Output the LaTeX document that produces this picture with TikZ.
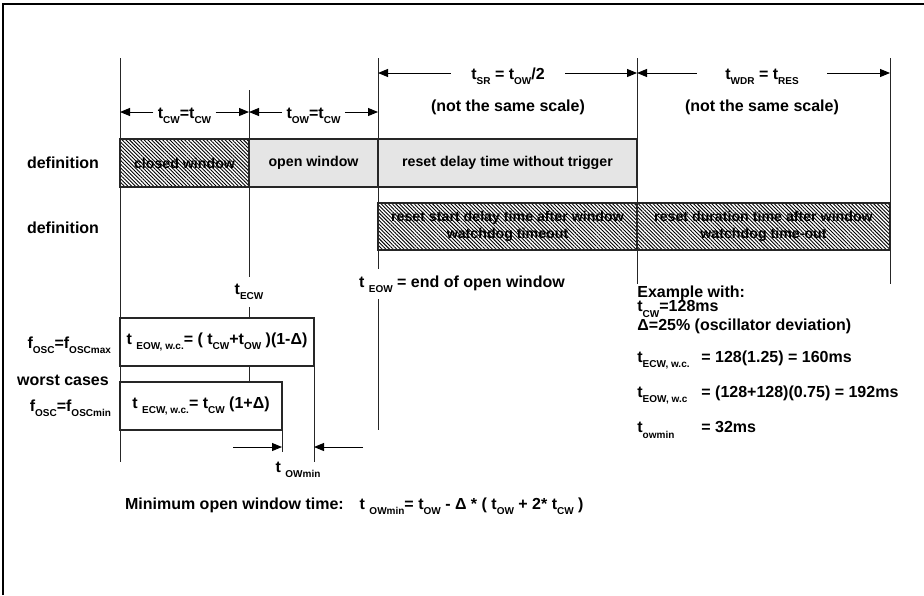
\documentclass[tikz,border=0pt]{standalone}
\usepackage{fontspec}
\setmainfont{Liberation Sans}
\usetikzlibrary{patterns.meta}
\usetikzlibrary{arrows.meta}
\usetikzlibrary{positioning}

\newcommand{\sub}[1]{\raisebox{-0.32em}{\fontsize{5}{6}\selectfont #1}}

\tikzset{
  grid line/.style={line width=0.5pt, draw=black!85},
  dim arrow/.style={line width=0.5pt, -{Triangle[length=5pt,width=4pt]}},
  dim label/.style={inner xsep=2pt, inner ysep=0pt, text height=6pt, text depth=0pt},
  box/.style={draw=black!85, line width=0.8pt, outer sep=0pt, inner sep=0pt, align=center},
  plain box/.style={box, fill=white},
  open box/.style={box, fill=black!10, font=\fontsize{7.1}{8.4}\selectfont\bfseries},
  closed box/.style={box, pattern={Lines[angle=-45,distance=1.3pt,line width=0.45pt]}, font=\fontsize{7.1}{8.4}\selectfont\bfseries},
  note/.style={anchor=west, inner sep=1pt},
}

\begin{document}
\begin{tikzpicture}[x=0.5pt, y=-0.5pt, font=\fontsize{8}{9.4}\selectfont\bfseries]
  \useasboundingbox (0,0) rectangle (924,595);
  \draw[line width=0.8pt] (3,595) -- (3,4) -- (924,4);

  % tops of the time marks
  \coordinate (g1) at (120,58);
  \coordinate (g2) at (249,90);
  \coordinate (g3) at (378,58);
  \coordinate (g4) at (637,58);
  \coordinate (g5) at (890,58);

  % window rows
  \node[closed box, minimum width=64.5pt, minimum height=24pt, anchor=north west] (cw) at (120,139) {closed window};
  \node[open box, minimum width=64.5pt, minimum height=24pt, anchor=north west] (ow) at (cw.north east) {open window};
  \node[open box, minimum width=129.5pt, minimum height=24pt, anchor=north west] (rd) at (ow.north east) {reset delay time without trigger};
  \node[closed box, minimum width=129.5pt, minimum height=23.5pt, anchor=north west] (rs) at (378,203) {reset start delay time after window\\watchdog timeout};
  \node[closed box, minimum width=126.5pt, minimum height=23.5pt, anchor=north west] (rt) at (rs.north east) {reset duration time after window\\watchdog time-out};

  \node (def1) at (63,163) {definition};
  \node (def2) at (63,228) {definition};

  % worst case boxes
  \node[plain box, minimum width=97pt, minimum height=24pt, anchor=north west] (eow) at (120,318) {t \sub{EOW, w.c.}= ( t\sub{CW}+t\sub{OW} )(1-Δ)};
  \node[plain box, minimum width=81pt, minimum height=24pt, anchor=north west] (ecw) at (120,382) {t \sub{ECW, w.c.}= t\sub{CW} (1+Δ)};
  \node[anchor=east] (fmax) at (118,345) {f\sub{OSC}=f\sub{OSCmax}};
  \node (worst) at (63,380) {worst cases};
  \node[anchor=east] (fmin) at (118,408) {f\sub{OSC}=f\sub{OSCmin}};

  % marks
  \node (tecw) at (249,292) {t\sub{ECW}};
  \node[anchor=west] (teow) at (352,284) {t \sub{EOW} = end of open window};
  \draw[grid line] (g1) -- (120,462);
  \draw[grid line] (g2) -- (g2 |- tecw.north);
  \draw[grid line] (g2 |- tecw.south) -- (g2 |- eow.north);
  \draw[grid line] (g2 |- eow.south) -- (g2 |- ecw.north);
  \draw[grid line] (g3) -- (g3 |- teow.north);
  \draw[grid line] (g3 |- teow.south) -- (g3 |- ecw.south);
  \draw[grid line] (g4) -- (g4 |- teow.center);
  \draw[grid line] (g5) -- (g5 |- teow.center);
  \draw[grid line] (eow.north east) -- (314,462);
  \draw[grid line] (ecw.south east) -- +(0,22);

  % durations
  \node[dim label] (tcw) at (184.5,112) {t\sub{CW}=t\sub{CW}};
  \draw[dim arrow] (tcw.west) -- (tcw.west -| g1);
  \draw[dim arrow] (tcw.east) -- (tcw.east -| g2);
  \node[dim label] (tow) at (313.5,112) {t\sub{OW}=t\sub{CW}};
  \draw[dim arrow] (tow.west) -- (tow.west -| g2);
  \draw[dim arrow] (tow.east) -- (tow.east -| g3);
  \node[dim label, inner xsep=10pt] (tsr) at (508,73) {t\sub{SR} = t\sub{OW}/2};
  \draw[dim arrow] (tsr.west) -- (tsr.west -| g3);
  \draw[dim arrow] (tsr.east) -- (tsr.east -| g4);
  \node[dim label, inner xsep=14pt] (twdr) at (762,73) {t\sub{WDR} = t\sub{RES}};
  \draw[dim arrow] (twdr.west) -- (twdr.west -| g4);
  \draw[dim arrow] (twdr.east) -- (twdr.east -| g5);
  \node (ns1) at (508,107) {(not the same scale)};
  \node (ns2) at (762,107) {(not the same scale)};

  % minimum open window
  \coordinate (owl) at (233,447);
  \coordinate (owr) at (363,447);
  \draw[dim arrow] (owl) -- (owl -| ecw.east);
  \draw[dim arrow] (owr) -- (owr -| eow.east);
  \node (owmin) at (298,470) {t \sub{OWmin}};
  \node[anchor=west] (minow) at (118,506) {Minimum open window time:\quad t \sub{OWmin}= t\sub{OW} - Δ * ( t\sub{OW} + 2* t\sub{CW} )};

  % example
  \node[note] (ex1) at (635,293) {Example with:};
  \node[note] (ex2) at (635,309) {t\sub{CW}=128ms};
  \node[note] (ex3) at (635,326) {Δ=25\% (oscillator deviation)};
  \node[note] (ex4) at (635,360) {\makebox[32pt][l]{t\sub{ECW, w.c.}}= 128(1.25) = 160ms};
  \node[note] (ex5) at (635,395) {\makebox[32pt][l]{t\sub{EOW, w.c}}= (128+128)(0.75) = 192ms};
  \node[note] (ex6) at (635,430) {\makebox[32pt][l]{t\sub{owmin}}= 32ms};
\end{tikzpicture}
\end{document}
